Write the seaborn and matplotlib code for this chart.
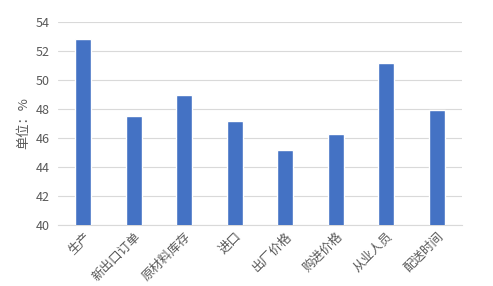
import matplotlib
matplotlib.use("Agg")
import matplotlib.pyplot as plt
import seaborn as sns
import pandas as pd

categories = ["生产", "新出口订单", "原材料库存", "进口", "出厂价格", "购进价格", "从业人员", "配送时间"]
values = [52.8, 47.5, 49.0, 47.2, 45.2, 46.3, 51.2, 47.9]
yticks = [40, 42, 44, 46, 48, 50, 52, 54]

sns.set_style("white")
plt.rcParams['font.family'] = ['Noto Sans CJK SC', 'DejaVu Sans']

df = pd.DataFrame({"cat": categories, "val": values})

fig = plt.figure(figsize=(4.93, 2.86), dpi=100)
ax = fig.add_axes([0.1177, 0.2133, 0.8193, 0.7097])
sns.barplot(data=df, x="cat", y="val", color="#4472C4", width=0.31, ax=ax, zorder=3, saturation=1)

ax.set_ylim(40, 54)
ax.set_yticks(yticks)
ax.set_xlim(-0.5, len(categories) - 0.5)
ax.grid(axis="y", color="#d9d9d9", linewidth=0.8, zorder=0)
ax.grid(axis="x", visible=False)
for s in ["top", "right", "left"]:
    ax.spines[s].set_visible(False)
ax.spines["bottom"].set_color("#d9d9d9")
ax.spines["bottom"].set_linewidth(0.8)
ax.tick_params(axis="both", length=0, colors="#595959", labelsize=9)
ax.tick_params(axis="y", pad=6)
ax.set_xlabel("")
ax.set_ylabel("单位：%", color="#595959", fontsize=9.5, labelpad=4)
plt.setp(ax.get_xticklabels(), rotation=45, ha="right", rotation_mode="anchor")

fig.savefig("out.png", dpi=100)
